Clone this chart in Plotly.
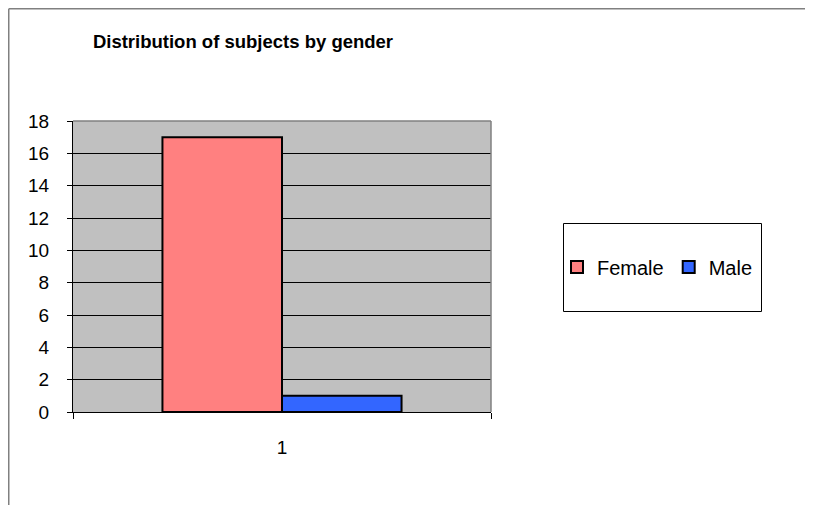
import plotly.graph_objects as go

# Data
categories = ["1"]
female_counts = [17]
male_counts = [1]

W, H = 813, 505
OFF = 8  # page body margin
# plot area in page pixels
L, R, T, B = 73, 491, 121, 412


def px_x(x):
    return (x - L) / (R - L)


def px_y(y):
    return (B - y) / (B - T)


fig = go.Figure()
fig.add_trace(go.Bar(
    x=categories, y=female_counts, name="Female",
    marker=dict(color="#FF8080", line=dict(color="black", width=2)),
))
fig.add_trace(go.Bar(
    x=categories, y=male_counts, name="Male",
    marker=dict(color="#3366FF", line=dict(color="black", width=2)),
))

grey = "#808080"
shapes = [
    # plot area border (top / right in grey)
    dict(type="line", xref="paper", yref="paper", x0=0, x1=1, y0=1, y1=1,
         line=dict(color=grey, width=1.5), layer="above"),
    dict(type="line", xref="paper", yref="paper", x0=1, x1=1, y0=0, y1=1,
         line=dict(color=grey, width=1.5), layer="above"),
    # chart area border (top and left visible)
    dict(type="line", xref="paper", yref="paper", x0=px_x(OFF + 0.75), x1=px_x(W + OFF),
         y0=px_y(OFF + 0.75), y1=px_y(OFF + 0.75), line=dict(color=grey, width=1.5)),
    dict(type="line", xref="paper", yref="paper", x0=px_x(OFF + 0.75), x1=px_x(OFF + 0.75),
         y0=px_y(OFF + 0.75), y1=px_y(H + OFF), line=dict(color=grey, width=1.5)),
    # legend box
    dict(type="rect", xref="paper", yref="paper", x0=px_x(563.5), x1=px_x(761.5),
         y0=px_y(311.5), y1=px_y(223.5), line=dict(color="black", width=1),
         fillcolor="white", layer="below"),
]

fig.update_layout(
    width=W, height=H,
    margin=dict(l=L - OFF, r=W - R + OFF, t=T - OFF, b=H - B + OFF),
    paper_bgcolor="white",
    plot_bgcolor="#C0C0C0",
    font=dict(family="Liberation Sans, Arial", size=19, color="black"),
    title=dict(text="<b>Distribution of subjects by gender</b>",
               x=(243 - OFF) / W, xanchor="center", y=1 - (42 - OFF) / H, yanchor="middle",
               font=dict(size=18.5)),
    barmode="group",
    bargap=0.428,
    bargroupgap=0,
    showlegend=True,
    legend=dict(orientation="h", x=px_x(557), y=px_y(267),
                xanchor="left", yanchor="middle",
                bgcolor="rgba(0,0,0,0)", borderwidth=0,
                font=dict(size=20), itemwidth=30, tracegroupgap=0),
    shapes=shapes,
)
fig.update_xaxes(
    type="category", showline=True, linecolor="black", linewidth=1,
    ticks="outside", tickson="boundaries", ticklen=6, tickcolor="black",
    showgrid=False, ticklabelstandoff=18,
)
fig.update_yaxes(
    range=[0, 18], dtick=2, showline=True, linecolor="black", linewidth=1,
    ticks="outside", ticklen=5, tickcolor="black",
    showgrid=True, gridcolor="black", gridwidth=1, zeroline=False,
    ticklabelstandoff=14,
)

fig.write_html("out.html")
